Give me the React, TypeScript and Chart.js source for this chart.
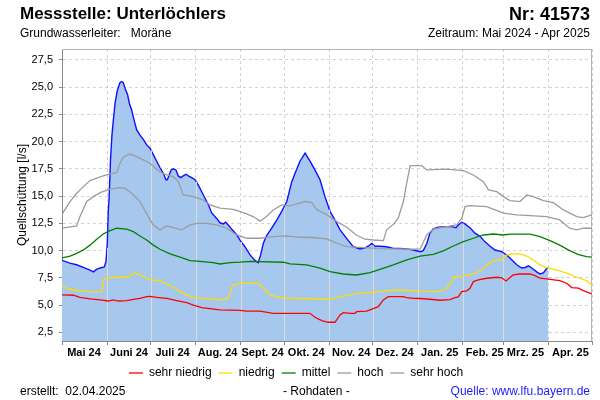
import React, { useEffect, useRef } from 'react';
import { Chart, registerables } from 'chart.js';

Chart.register(...registerables);

// Days counted from 1 May 2024
const monthStarts = [0, 31, 61, 92, 123, 153, 184, 214, 245, 276, 304, 335, 365];
const monthLabels = ['Mai 24', 'Juni 24', 'Juli 24', 'Aug. 24', 'Sept. 24', 'Okt. 24', 'Nov. 24', 'Dez. 24', 'Jan. 25', 'Feb. 25', 'Mrz. 25', 'Apr. 25', ''];
const yTicks = [2.5, 5, 7.5, 10, 12.5, 15, 17.5, 20, 22.5, 25, 27.5];

// Rohdaten (Quellschüttung)
const flowDays = [0, 5.5, 10, 14.7, 19.3, 21.6, 24, 26.2, 29.1, 30.3, 31.2, 31.9, 32.4, 33.4, 34.4, 35.1, 36.5, 38.1, 39.9, 41.1, 42.2, 43.4, 45.2, 46.4, 48, 49.6, 51.4, 53.7, 56, 58.3, 60.6, 62.9, 65.2, 67.5, 69.8, 71.6, 72.5, 73.7, 75.1, 76.7, 78.5, 80.1, 81.7, 83.5, 85.4, 87, 89.3, 91.6, 93.9, 96.2, 98.5, 100.8, 103.1, 106.5, 108.8, 111.1, 112.7, 114.5, 116.9, 120.3, 122.6, 126, 129.5, 132.9, 135.2, 136.8, 138.6, 141, 144.4, 147.9, 151.3, 154.8, 158.2, 160.5, 163.9, 167.4, 170.8, 174.2, 177.7, 181.1, 184.6, 188, 191.5, 196.1, 200.6, 205.2, 208.7, 210.9, 213.3, 215.6, 219, 223.6, 228.2, 232.8, 237.4, 241.9, 246.6, 248.8, 251.2, 253.4, 255.7, 259.2, 263.8, 268.4, 271.3, 272.9, 275.3, 277.5, 281, 284.4, 287.9, 291.3, 294.8, 298.2, 302.8, 306.3, 309.7, 313.2, 316.6, 318.9, 321.2, 323.5, 326.9, 329.2, 331.5, 333.8, 334.9];
const flowVals = [9.1, 8.85, 8.7, 8.45, 8.2, 8.05, 8.3, 8.4, 8.5, 9.0, 10.7, 13.7, 14.7, 18.3, 20.6, 21.6, 23.5, 24.7, 25.4, 25.5, 25.4, 24.9, 24.3, 23.5, 22.9, 22.0, 21.1, 20.6, 20.2, 19.7, 19.4, 18.8, 18.2, 17.6, 17.1, 16.5, 16.5, 16.9, 17.4, 17.5, 17.4, 16.85, 16.7, 16.85, 17.0, 16.85, 16.7, 16.5, 16.0, 15.4, 14.8, 14.2, 13.45, 12.95, 12.55, 12.45, 12.6, 12.35, 11.95, 11.45, 10.95, 10.35, 9.6, 9.1, 8.9, 9.6, 10.65, 11.4, 12.05, 12.8, 13.6, 14.5, 16.3, 17.1, 18.2, 18.95, 18.2, 17.4, 16.5, 14.95, 13.6, 12.8, 11.9, 11.1, 10.35, 10.15, 10.25, 10.4, 10.65, 10.4, 10.4, 10.35, 10.2, 10.2, 10.15, 10.05, 9.9, 10.0, 10.65, 11.6, 12.0, 12.15, 12.2, 12.2, 12.1, 12.35, 12.6, 12.45, 12.1, 11.6, 11.3, 10.8, 10.4, 10.05, 9.9, 9.6, 9.15, 8.7, 8.4, 8.45, 8.6, 8.4, 8.05, 7.85, 7.95, 8.35, 8.45];

const sehrNiedrigDays = [0, 7.8, 12.4, 19.3, 26.2, 31.9, 35.3, 38.8, 44.6, 49.1, 53.7, 58.3, 60.6, 65.2, 72.1, 79, 85.9, 90.4, 96.2, 101.9, 108.8, 122.6, 127.2, 136.4, 145.5, 170.8, 174.2, 178.9, 183.4, 188, 191.5, 193.7, 198.3, 201.8, 202.9, 209.8, 214.4, 217.8, 221.3, 224.7, 235, 237.4, 241.9, 246.6, 253.4, 260.3, 267.2, 270.7, 272.9, 275.3, 278.7, 281, 283.3, 286.7, 292.5, 299.4, 302.8, 305.8, 308.3, 310.8, 315.4, 322.3, 325.8, 329.2, 334.9, 342.8, 347.6, 351, 355.6, 359, 364.8];
const sehrNiedrigVals = [5.93, 5.9, 5.71, 5.56, 5.47, 5.37, 5.47, 5.37, 5.4, 5.53, 5.62, 5.77, 5.8, 5.71, 5.62, 5.4, 5.22, 5.0, 4.76, 4.67, 4.55, 4.52, 4.45, 4.45, 4.24, 4.24, 3.88, 3.57, 3.42, 3.42, 4.09, 4.3, 4.24, 4.24, 4.39, 4.45, 4.67, 4.85, 5.47, 5.77, 5.77, 5.68, 5.62, 5.6, 5.53, 5.44, 5.5, 5.68, 5.75, 6.23, 6.3, 6.54, 7.15, 7.3, 7.46, 7.55, 7.5, 7.21, 7.5, 7.76, 7.85, 7.85, 7.7, 7.46, 7.37, 7.24, 7.0, 6.6, 6.55, 6.32, 6.02];

const niedrigDays = [0, 5.5, 12.4, 19.3, 26.2, 27.3, 28.4, 30.8, 37.7, 45.7, 48, 50.3, 53.7, 58.3, 61.8, 67.5, 72.1, 76.7, 81.3, 85.9, 90.4, 97.3, 104.2, 111.1, 114.5, 116.2, 117.6, 122.6, 135.2, 138.6, 143.3, 150.1, 157, 168.5, 177.7, 184.6, 191.5, 198.3, 202.9, 212.1, 219, 223.6, 232.8, 241.9, 246.6, 260.3, 264.9, 268.4, 269.6, 276.4, 283.3, 289, 292.5, 297.1, 302.8, 306.3, 309.7, 315.4, 320, 324.6, 329.2, 334.9, 340.6, 347.6, 354.5, 361.4, 364.8];
const niedrigVals = [6.69, 6.45, 6.32, 6.23, 6.2, 6.25, 7.3, 7.46, 7.55, 7.55, 7.85, 7.92, 7.76, 7.46, 7.3, 7.24, 6.94, 6.63, 6.23, 5.93, 5.71, 5.62, 5.53, 5.47, 5.62, 6.23, 6.84, 6.99, 7.0, 6.54, 5.93, 5.71, 5.62, 5.6, 5.53, 5.53, 5.77, 5.93, 6.08, 6.15, 6.23, 6.32, 6.38, 6.32, 6.25, 6.23, 6.54, 7.15, 7.55, 7.67, 7.85, 8.22, 8.68, 9.07, 9.2, 9.6, 9.7, 9.7, 9.5, 9.14, 8.68, 8.38, 8.22, 7.92, 7.55, 7.24, 6.84];

const mittelDays = [0, 5.5, 10.1, 14.7, 19.3, 23.9, 28.4, 33.1, 37.7, 44.6, 49.1, 53.7, 58.3, 62.9, 67.5, 74.4, 81.3, 88.2, 95, 104.2, 108.8, 115.7, 122.6, 129.5, 152.4, 157, 168.5, 177.7, 184.6, 193.7, 202.9, 212.1, 219, 228.2, 237.4, 246.6, 255.7, 262.6, 269.5, 276.4, 283.3, 290.2, 297.1, 303.9, 308.5, 322.3, 329.2, 336.1, 342.8, 349.6, 355.3, 361.1, 364.8];
const mittelVals = [9.33, 9.5, 9.75, 10.06, 10.5, 11.04, 11.52, 11.83, 12.05, 11.96, 11.74, 11.34, 10.97, 10.5, 10.12, 9.69, 9.39, 9.08, 9.0, 8.9, 8.77, 8.9, 8.93, 9.0, 8.93, 8.77, 8.68, 8.38, 8.07, 7.85, 7.76, 7.97, 8.28, 8.68, 9.14, 9.5, 9.66, 9.97, 10.42, 10.82, 11.13, 11.43, 11.52, 11.43, 11.5, 11.5, 11.28, 10.91, 10.5, 9.99, 9.66, 9.44, 9.39];

const hochDays = [0, 10.1, 12.4, 17, 21.6, 26.2, 33.1, 39.9, 43.4, 48, 53.7, 59.4, 62.9, 67.5, 72.1, 77.8, 82.4, 88.2, 92.8, 99.7, 106.5, 113.4, 120.3, 127.2, 136.4, 145.5, 154.7, 163.9, 173.1, 182.3, 189.2, 196.1, 205.2, 219, 241.9, 246.6, 251.2, 255.7, 262.6, 271.8, 275.3, 277.6, 281, 292.5, 304, 313.2, 322.3, 333.8, 342.8, 349.6, 354.5, 359, 364.8];
const hochVals = [12.05, 12.26, 13.12, 14.5, 14.95, 15.32, 15.63, 15.78, 15.72, 15.26, 14.5, 13.12, 12.35, 11.9, 12.26, 12.05, 11.9, 12.35, 12.5, 12.5, 12.35, 12.05, 11.43, 11.13, 11.13, 11.28, 11.34, 11.22, 11.2, 11.07, 10.67, 10.36, 10.3, 10.17, 10.12, 10.15, 11.43, 11.96, 12.14, 12.35, 12.97, 14.04, 14.13, 14.04, 13.43, 13.27, 13.2, 13.12, 12.81, 12.05, 11.9, 12.05, 12.05];

const sehrHochDays = [0, 5.5, 10.1, 14.7, 19.3, 23.9, 28.4, 33.1, 37.7, 39.9, 42.2, 46.8, 51.4, 56, 60.6, 65.2, 69.8, 76.7, 80.1, 83.5, 90.4, 97.3, 101.9, 108.8, 118, 124.9, 131.7, 136.4, 141, 145.5, 151.3, 157, 161.6, 167.4, 172, 175.4, 182.3, 189.2, 196.1, 202.9, 208.7, 214.4, 221.3, 223.6, 228.2, 231.6, 235.1, 237.4, 239.7, 247.7, 251.2, 264.9, 276.4, 283.3, 290.2, 293.7, 299.4, 304, 308.5, 315.4, 320, 324.6, 331.5, 338.4, 345.3, 354.5, 359, 364.8];
const sehrHochVals = [13.33, 14.5, 15.26, 15.87, 16.42, 16.64, 16.85, 17.04, 17.16, 18.0, 18.57, 18.87, 18.62, 18.32, 18.02, 17.47, 17.04, 16.79, 16.33, 15.1, 14.95, 14.65, 14.19, 13.89, 13.79, 13.48, 13.12, 12.7, 13.15, 13.73, 14.19, 14.1, 14.28, 14.5, 14.4, 13.76, 13.3, 12.66, 12.14, 11.4, 11.04, 10.97, 10.91, 11.9, 12.4, 13.0, 14.5, 16.2, 17.8, 17.8, 17.4, 17.47, 17.34, 16.94, 16.33, 15.57, 15.41, 14.95, 14.58, 14.5, 15.1, 14.95, 14.58, 14.4, 13.73, 13.12, 13.03, 13.27];

const FONT = "'Liberation Sans', Arial, Helvetica, sans-serif";

function toPoints(days: number[], vals: number[]) {
  return days.map((d, i) => ({ x: d, y: vals[i] }));
}

function interp(days: number[], vals: number[], d: number): number | null {
  if (d < days[0] || d > days[days.length - 1]) return null;
  for (let i = 1; i < days.length; i++) {
    if (d <= days[i]) {
      const t = (d - days[i - 1]) / (days[i] - days[i - 1]);
      return vals[i - 1] + t * (vals[i] - vals[i - 1]);
    }
  }
  return null;
}

const FLOW_INDEX = 5;

const fillSeparators = {
  id: 'fillSeparators',
  afterDatasetDraw(chart: any, args: any) {
    if (args.index !== FLOW_INDEX) return;
    const { ctx, chartArea, scales } = chart;
    ctx.save();
    ctx.strokeStyle = '#dcdcdc';
    ctx.lineWidth = 1;
    monthStarts.forEach((m) => {
      if (m <= flowDays[0] || m >= flowDays[flowDays.length - 1]) return;
      const v = interp(flowDays, flowVals, m);
      if (v === null) return;
      const px = Math.round(scales.x.getPixelForValue(m)) + 0.5;
      const py = scales.y.getPixelForValue(v) + 1;
      ctx.beginPath();
      ctx.moveTo(px, chartArea.bottom);
      ctx.lineTo(px, py);
      ctx.stroke();
    });
    ctx.restore();
  },
};

const frame = {
  id: 'frame',
  beforeDatasetsDraw(chart: any) {
    const { ctx, chartArea } = chart;
    ctx.save();
    ctx.strokeStyle = '#b4b4b4';
    ctx.lineWidth = 1;
    ctx.beginPath();
    ctx.moveTo(chartArea.left, Math.round(chartArea.top) + 0.5);
    ctx.lineTo(chartArea.right, Math.round(chartArea.top) + 0.5);
    ctx.moveTo(Math.round(chartArea.right) - 0.5, chartArea.top);
    ctx.lineTo(Math.round(chartArea.right) - 0.5, chartArea.bottom);
    ctx.stroke();
    ctx.restore();
  },
};

const textBase: React.CSSProperties = {
  position: 'absolute',
  fontFamily: FONT,
  color: '#000',
  whiteSpace: 'pre',
  lineHeight: 1,
};

export default function App() {
  const canvasRef = useRef<HTMLCanvasElement | null>(null);

  useEffect(() => {
    if (!canvasRef.current) return;
    Chart.defaults.font.family = FONT;
    const line = (label: string, days: number[], vals: number[], color: string) => ({
      label,
      data: toPoints(days, vals),
      borderColor: color,
      backgroundColor: color,
      borderWidth: 1.3,
      pointRadius: 0,
      fill: false,
      tension: 0,
    });
    const chart = new Chart(canvasRef.current, {
      type: 'line',
      data: {
        datasets: [
          line('sehr niedrig', sehrNiedrigDays, sehrNiedrigVals, '#ff0000'),
          line('niedrig', niedrigDays, niedrigVals, '#ffdc00'),
          line('mittel', mittelDays, mittelVals, '#008000'),
          line('hoch', hochDays, hochVals, '#9c9c9c'),
          line('sehr hoch', sehrHochDays, sehrHochVals, '#9c9c9c'),
          {
            label: 'Quellschüttung',
            data: toPoints(flowDays, flowVals),
            borderColor: '#1010ff',
            backgroundColor: '#a6c8ef',
            borderWidth: 1.4,
            pointRadius: 0,
            fill: 'start',
            tension: 0,
          },
        ],
      },
      options: {
        animation: false,
        responsive: false,
        maintainAspectRatio: false,
        layout: { padding: { top: 49, left: 0, right: 8, bottom: 11 } },
        plugins: {
          legend: {
            position: 'bottom',
            labels: {
              usePointStyle: true,
              pointStyle: 'line',
              pointStyleWidth: 14,
              padding: 7,
              color: '#000',
              font: { size: 12, family: FONT },
              filter: (item: any) => item.datasetIndex !== FLOW_INDEX,
            },
          },
          tooltip: { enabled: false },
        },
        scales: {
          x: {
            type: 'linear',
            min: 0,
            max: 365,
            afterBuildTicks: (scale: any) => {
              scale.ticks = monthStarts.map((v) => ({ value: v }));
            },
            afterFit: (scale: any) => {
              scale.height = 19;
            },
            ticks: {
              autoSkip: false,
              maxRotation: 0,
              minRotation: 0,
              labelOffset: 22,
              padding: 1,
              color: '#000',
              font: { size: 11, weight: 'bold', family: FONT },
              callback: (_v: any, i: number) => monthLabels[i],
            },
            grid: { color: '#d2d2d2', tickLength: 4, tickColor: '#888888' },
            border: { color: '#888888', dash: [3, 3] },
          },
          y: {
            type: 'linear',
            min: 1.7,
            max: 28.5,
            afterBuildTicks: (scale: any) => {
              scale.ticks = yTicks.map((v) => ({ value: v }));
            },
            afterFit: (scale: any) => {
              scale.width = 62;
            },
            ticks: {
              padding: 6,
              color: '#000',
              font: { size: 11, family: FONT },
              callback: (v: any) => Number(v).toFixed(1).replace('.', ','),
            },
            grid: { color: '#d2d2d2', tickLength: 3, tickColor: '#888888' },
            border: { color: '#888888', dash: [3, 3] },
            title: {
              display: true,
              text: 'Quellschüttung [l/s]',
              color: '#000',
              font: { size: 12, family: FONT },
              padding: { top: 15, bottom: 0 },
            },
          },
        },
      },
      plugins: [fillSeparators, frame],
    } as any);
    return () => chart.destroy();
  }, []);

  return (
    <div style={{ position: 'absolute', left: 0, top: 0, width: 600, height: 400, background: '#fff', overflow: 'hidden' }}>
      <canvas ref={canvasRef} width={600} height={400} style={{ display: 'block', position: 'absolute', left: 0, top: 0 }} />
      <div style={{ ...textBase, left: 20, top: 5, fontSize: 17, fontWeight: 'bold' }}>Messstelle: Unterlöchlers</div>
      <div style={{ ...textBase, right: 10, top: 5, fontSize: 18, fontWeight: 'bold' }}>Nr: 41573</div>
      <div style={{ ...textBase, left: 20, top: 27, fontSize: 12 }}>{'Grundwasserleiter:   Moräne'}</div>
      <div style={{ ...textBase, right: 10, top: 27, fontSize: 12 }}>Zeitraum: Mai 2024 - Apr 2025</div>
      <div style={{ ...textBase, left: 20, top: 385, fontSize: 12 }}>{'erstellt:  02.04.2025'}</div>
      <div style={{ ...textBase, left: 283, top: 385, fontSize: 12 }}>- Rohdaten -</div>
      <div style={{ ...textBase, right: 10, top: 385, fontSize: 12, color: '#1a1aff' }}>Quelle: www.lfu.bayern.de</div>
    </div>
  );
}
